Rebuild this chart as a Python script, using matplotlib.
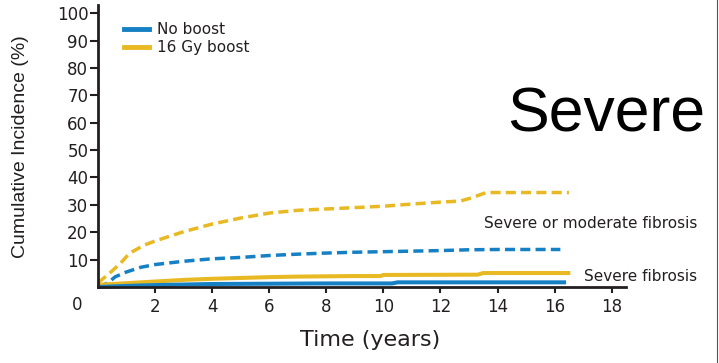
import matplotlib
matplotlib.use('Agg')
import matplotlib.pyplot as plt
from matplotlib.lines import Line2D
from matplotlib import font_manager

# cumulative incidence (%)
t_boost_any = [0, 0.4, 0.8, 1.1, 1.6, 2.0, 3.0, 4.0, 5.0, 6.0, 7.0, 8.0, 9.0, 10.0, 11.0, 12.0, 12.7, 13.1, 13.6, 16.5]
y_boost_any = [1.5, 5.0, 8.8, 12.3, 15.2, 16.8, 20.2, 23.0, 25.2, 27.0, 28.0, 28.5, 29.0, 29.5, 30.3, 31.0, 31.4, 32.6, 34.5, 34.5]

t_none_any = [0, 0.35, 0.6, 1.0, 1.5, 2.0, 3.0, 4.0, 5.0, 6.0, 7.0, 8.0, 9.0, 10.0, 11.0, 12.0, 13.0, 14.0, 16.2]
y_none_any = [0, 1.5, 3.7, 5.5, 7.2, 8.2, 9.4, 10.3, 10.8, 11.5, 12.0, 12.4, 12.7, 12.9, 13.1, 13.3, 13.6, 13.7, 13.7]

t_boost_sev = [0, 1, 2, 3, 4, 5, 6, 7, 8, 9, 9.9, 10.0, 13.3, 13.5, 16.55]
y_boost_sev = [0.8, 1.4, 2.0, 2.6, 3.0, 3.3, 3.6, 3.8, 3.9, 4.0, 4.0, 4.4, 4.5, 5.1, 5.1]

t_none_sev = [0, 1, 2, 3, 4, 6, 8, 10.3, 10.5, 16.4]
y_none_sev = [0, 0.4, 0.7, 0.9, 1.1, 1.2, 1.3, 1.3, 1.7, 1.7]

x_ticks = [2, 4, 6, 8, 10, 12, 14, 16, 18]
y_ticks = [10, 20, 30, 40, 50, 60, 70, 80, 90, 100]

BLUE = '#1580c4'
YELLOW = '#e8b923'
INK = '#231f20'

# narrow face for the y label if there is one
names = {f.name for f in font_manager.fontManager.ttflist}
if 'Liberation Sans Narrow' in names:
    ylab_font, ylab_size = 'Liberation Sans Narrow', 16.5
elif 'DejaVu Sans Condensed' in names:
    ylab_font, ylab_size = 'DejaVu Sans Condensed', 14
else:
    ylab_font, ylab_size = 'Liberation Sans', 14

plt.rcParams['font.family'] = ['DejaVu Sans']

fig = plt.figure(figsize=(7.19, 3.63), dpi=100)
ax = fig.add_axes([98 / 719, 1 - 287 / 363, 528 / 719, 282 / 363])

dash = (0, (2.9, 1.5))
ax.plot(t_boost_any, y_boost_any, color=YELLOW, lw=2.5, ls=dash, clip_on=False)
ax.plot(t_none_any, y_none_any, color=BLUE, lw=2.5, ls=dash, clip_on=False)
ax.plot(t_boost_sev, y_boost_sev, color=YELLOW, lw=2.9, clip_on=False, solid_capstyle='butt')
ax.plot(t_none_sev, y_none_sev, color=BLUE, lw=2.9, clip_on=False, solid_capstyle='butt')

ax.set_xlim(0, 18.5)
ax.set_ylim(0, 103)
for s in ['top', 'right']:
    ax.spines[s].set_visible(False)
for s in ['left', 'bottom']:
    ax.spines[s].set_linewidth(2)
    ax.spines[s].set_color(INK)

ax.set_xticks(x_ticks)
ax.set_yticks(y_ticks)
ax.tick_params(axis='y', length=6, width=1.5, pad=1, labelsize=12, colors=INK)
ax.tick_params(axis='x', length=4, width=1.5, pad=4, labelsize=12, colors=INK)
# shared origin label sits below-left of the corner
ax.annotate('0', xy=(0, 0), xycoords='axes fraction', xytext=(-15, -13),
            textcoords='offset points', ha='center', va='center', fontsize=12, color=INK)

handles = [Line2D([], [], color=BLUE, lw=3.5), Line2D([], [], color=YELLOW, lw=3.5)]
ax.legend(handles, ['No boost', '16 Gy boost'], loc='upper left',
          bbox_to_anchor=(26 / 528, 1 - 17 / 282),
          frameon=False, fontsize=11, handlelength=1.65, handletextpad=0.5,
          labelspacing=0.2, borderpad=0, borderaxespad=0, labelcolor=INK)

ax.text(21.0, 23.1, 'Severe or moderate fibrosis', ha='right', va='center',
        fontsize=11, color=INK, clip_on=False)
ax.text(21.0, 4.0, 'Severe fibrosis', ha='right', va='center',
        fontsize=11, color=INK, clip_on=False)

fig.text(21 / 719, 1 - 147 / 363, 'Cumulative Incidence (%)', rotation=90,
         ha='center', va='center', family=ylab_font, fontsize=ylab_size, color=INK)
fig.text(370 / 719, 1 - 346 / 363, 'Time (years)', ha='center', va='baseline',
         fontsize=16, color=INK)

fig.text(705 / 719, 1 - 132 / 363, 'Severe', ha='right', va='baseline',
         family='Liberation Sans', fontsize=45, color='black')

fig.add_artist(Line2D([716.5 / 719] * 2, [0, 1], color='#555555', lw=0.8))

fig.savefig('out.png', dpi=100)
